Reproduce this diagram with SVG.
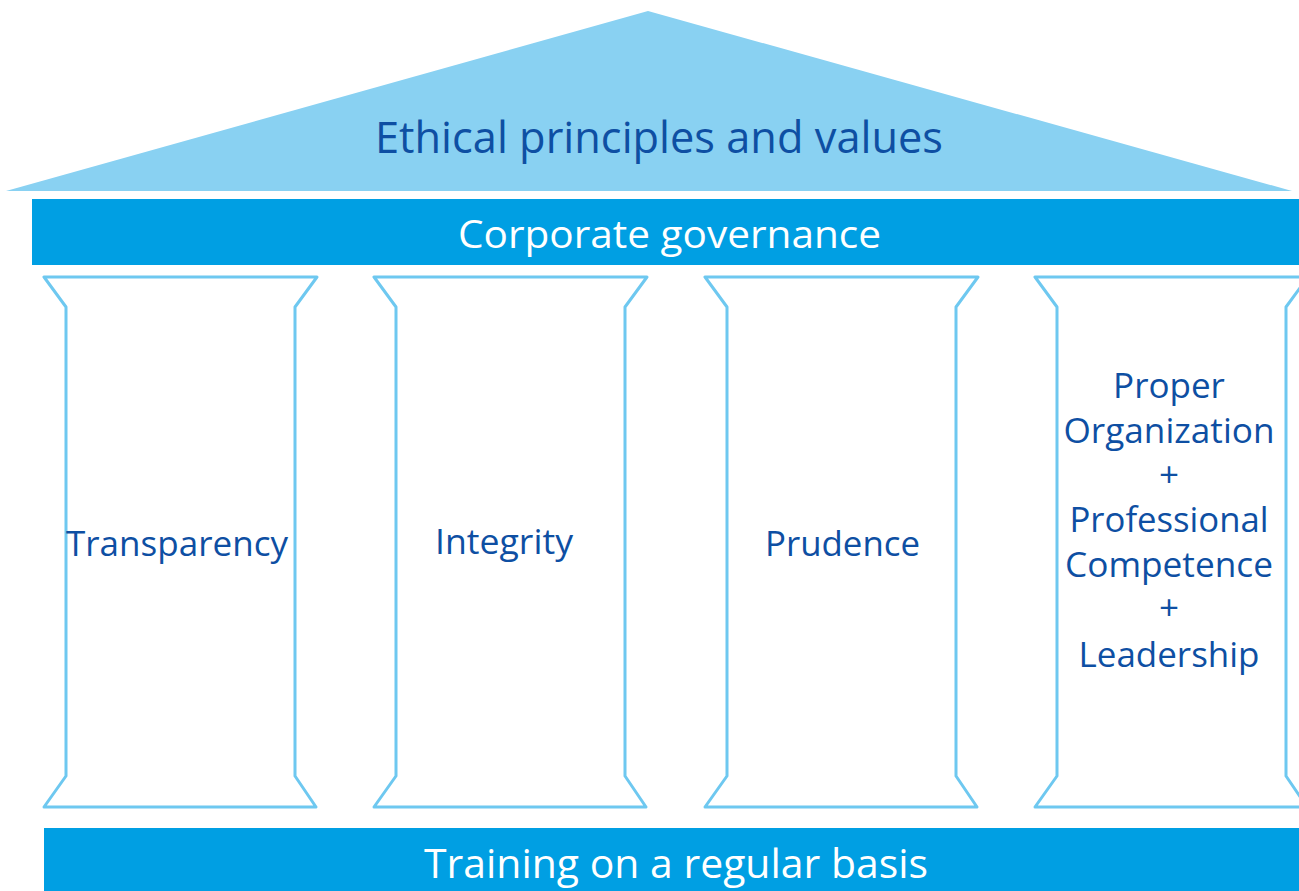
<svg xmlns="http://www.w3.org/2000/svg" width="1299" height="891" viewBox="0 0 1299 891">
  <style>
    .roof { fill: #89D1F2; }
    .bar { fill: #009FE3; }
    .pillar { fill: #FFFFFF; stroke: #6EC8F0; stroke-width: 3; stroke-linejoin: round; }
    .dark { fill: #0E4FA3; font-family: "Open Sans", "Liberation Sans", sans-serif; font-weight: 500; text-anchor: middle; }
    .light { fill: #FFFFFF; font-family: "Open Sans", "Liberation Sans", sans-serif; text-anchor: middle; }
  </style>
  <defs>
    <!-- one column outline, drawn at origin; 273 wide, 530 tall -->
    <path id="column" class="pillar" d="M0 0 H273 L251 30 V499 L272 530 H0 L22 499 V30 Z"/>
  </defs>

  <rect width="1299" height="891" fill="#FFFFFF"/>

  <g id="roof">
    <polygon class="roof" points="648,11 1292,191 6,191"/>
    <text class="dark" x="659" y="153" font-size="43" textLength="568" lengthAdjust="spacingAndGlyphs">Ethical principles and values</text>
  </g>

  <g id="governance">
    <rect class="bar" x="32" y="199" width="1267" height="66"/>
    <text class="light" x="669.5" y="248" font-size="39" textLength="423" lengthAdjust="spacingAndGlyphs">Corporate governance</text>
  </g>

  <g id="pillar-transparency">
    <use href="#column" x="44" y="277"/>
    <text class="dark" x="177" y="556" font-size="35" textLength="222" lengthAdjust="spacingAndGlyphs">Transparency</text>
  </g>

  <g id="pillar-integrity">
    <use href="#column" x="374" y="277"/>
    <text class="dark" x="504" y="554" font-size="35" textLength="138" lengthAdjust="spacingAndGlyphs">Integrity</text>
  </g>

  <g id="pillar-prudence">
    <use href="#column" x="705" y="277"/>
    <text class="dark" x="842.5" y="556" font-size="35" textLength="155" lengthAdjust="spacingAndGlyphs">Prudence</text>
  </g>

  <g id="pillar-organization">
    <use href="#column" x="1035" y="277"/>
    <text class="dark" x="1169" y="398" font-size="35">Proper</text>
    <text class="dark" x="1169" y="443" font-size="35" textLength="211" lengthAdjust="spacingAndGlyphs">Organization</text>
    <text class="dark" x="1169" y="487" font-size="35">+</text>
    <text class="dark" x="1169" y="532" font-size="35" textLength="199" lengthAdjust="spacingAndGlyphs">Professional</text>
    <text class="dark" x="1169" y="577" font-size="35" textLength="208" lengthAdjust="spacingAndGlyphs">Competence</text>
    <text class="dark" x="1169" y="620" font-size="35">+</text>
    <text class="dark" x="1169" y="667" font-size="35" textLength="181" lengthAdjust="spacingAndGlyphs">Leadership</text>
  </g>

  <g id="training">
    <rect class="bar" x="44" y="828" width="1255" height="63"/>
    <text class="light" x="676" y="878" font-size="41" textLength="504" lengthAdjust="spacingAndGlyphs">Training on a regular basis</text>
  </g>

  <g id="connectors"></g>
</svg>
